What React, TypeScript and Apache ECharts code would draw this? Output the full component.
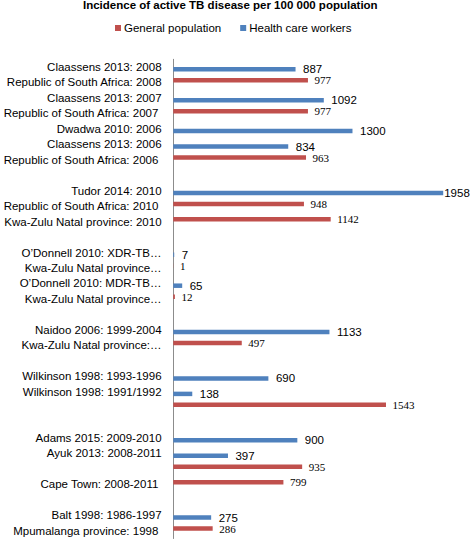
import React, { useEffect, useRef } from "react";
import * as echarts from "echarts";

const categories: string[] = [
  "Claassens 2013: 2008",
  "Republic of South Africa: 2008",
  "Claassens 2013: 2007",
  "Republic of South Africa: 2007\u00a0",
  "Dwadwa 2010: 2006",
  "Claassens 2013: 2006",
  "Republic of South Africa: 2006\u00a0",
  "",
  "Tudor 2014: 2010",
  "Republic of South Africa: 2010\u00a0",
  "Kwa-Zulu Natal province: 2010",
  "",
  "O\u2019Donnell 2010: XDR-TB\u2026",
  "Kwa-Zulu Natal province\u2026",
  "O\u2019Donnell 2010: MDR-TB\u2026",
  "Kwa-Zulu Natal province\u2026",
  "",
  "Naidoo 2006: 1999-2004",
  "Kwa-Zulu Natal province:\u2026",
  "",
  "Wilkinson 1998: 1993-1996",
  "Wilkinson 1998: 1991/1992",
  "",
  "",
  "Adams 2015: 2009-2010",
  "Ayuk 2013: 2008-2011",
  "",
  "Cape Town: 2008-2011\u00a0",
  "",
  "Balt 1998: 1986-1997",
  "Mpumalanga province: 1998\u00a0",
];

const generalPopulation: (number | null)[] = [
  null, 977, null, 977, null, null, 963, null,
  null, 948, 1142, null,
  null, 1, null, 12, null,
  null, 497, null,
  null, null, 1543, null,
  null, null, 935, 799, null,
  null, 286,
];

const healthCareWorkers: (number | null)[] = [
  887, null, 1092, null, 1300, 834, null, null,
  1958, null, null, null,
  7, null, 65, null, null,
  1133, null, null,
  690, 138, null, null,
  900, 397, null, null, null,
  275, null,
];

const seriesNames = ["General population", "Health care workers"];
const titleText = "Incidence of active TB disease per 100 000 population";

export default function App() {
  const ref = useRef<HTMLDivElement>(null);
  useEffect(() => {
    if (!ref.current) return;
    const chart = echarts.init(ref.current, null, { renderer: "svg" });
    const sans = "'Liberation Sans', Arial, sans-serif";
    const serif = "'Liberation Serif', 'Times New Roman', serif";
    const maxHcw = Math.max(...(healthCareWorkers.filter((v) => v != null) as number[]));
    const hcwData = healthCareWorkers.map((v) =>
      v === maxHcw ? { value: v, label: { distance: 1 } } : v
    );
    chart.setOption({
      animation: false,
      backgroundColor: "#ffffff",
      title: {
        text: titleText,
        left: 83,
        top: -1,
        padding: 0,
        textStyle: { fontFamily: sans, fontSize: 11.5, fontWeight: "bold", color: "#000" },
      },
      legend: {
        data: seriesNames,
        left: 115,
        top: 22,
        padding: 0,
        itemWidth: 6,
        itemHeight: 6,
        itemGap: 19,
        icon: "rect",
        textStyle: { fontFamily: sans, fontSize: 11.5, color: "#000", padding: [0, 0, 0, -2] },
      },
      grid: { left: 171, right: 22, top: 59.3, bottom: 0.5, containLabel: false },
      xAxis: { type: "value", min: 0, max: 2000, show: false },
      yAxis: {
        type: "category",
        inverse: true,
        data: categories,
        axisLine: { show: true, lineStyle: { color: "#8c8c8c", width: 1 } },
        axisTick: { show: false },
        axisLabel: { fontFamily: sans, fontSize: 11.5, color: "#000", margin: 11.7, interval: 0 },
      },
      series: [
        {
          name: seriesNames[0],
          type: "bar",
          data: generalPopulation,
          barWidth: 4.5,
          barGap: "0%",
          itemStyle: { color: "#c0504d" },
          label: {
            show: true,
            position: "right",
            distance: 6.5,
            fontFamily: serif,
            fontSize: 11,
            lineHeight: 10,
            color: "#000",
          },
        },
        {
          name: seriesNames[1],
          type: "bar",
          data: hcwData,
          barWidth: 4.5,
          barGap: "0%",
          itemStyle: { color: "#4f81bd" },
          label: {
            show: true,
            position: "right",
            distance: 7.5,
            fontFamily: sans,
            fontSize: 11.5,
            lineHeight: 10,
            color: "#000",
          },
        },
      ],
    });
    return () => chart.dispose();
  }, []);
  return (
    <div
      ref={ref}
      style={{ position: "absolute", left: 0, top: 0, width: 471, height: 539 }}
    />
  );
}
